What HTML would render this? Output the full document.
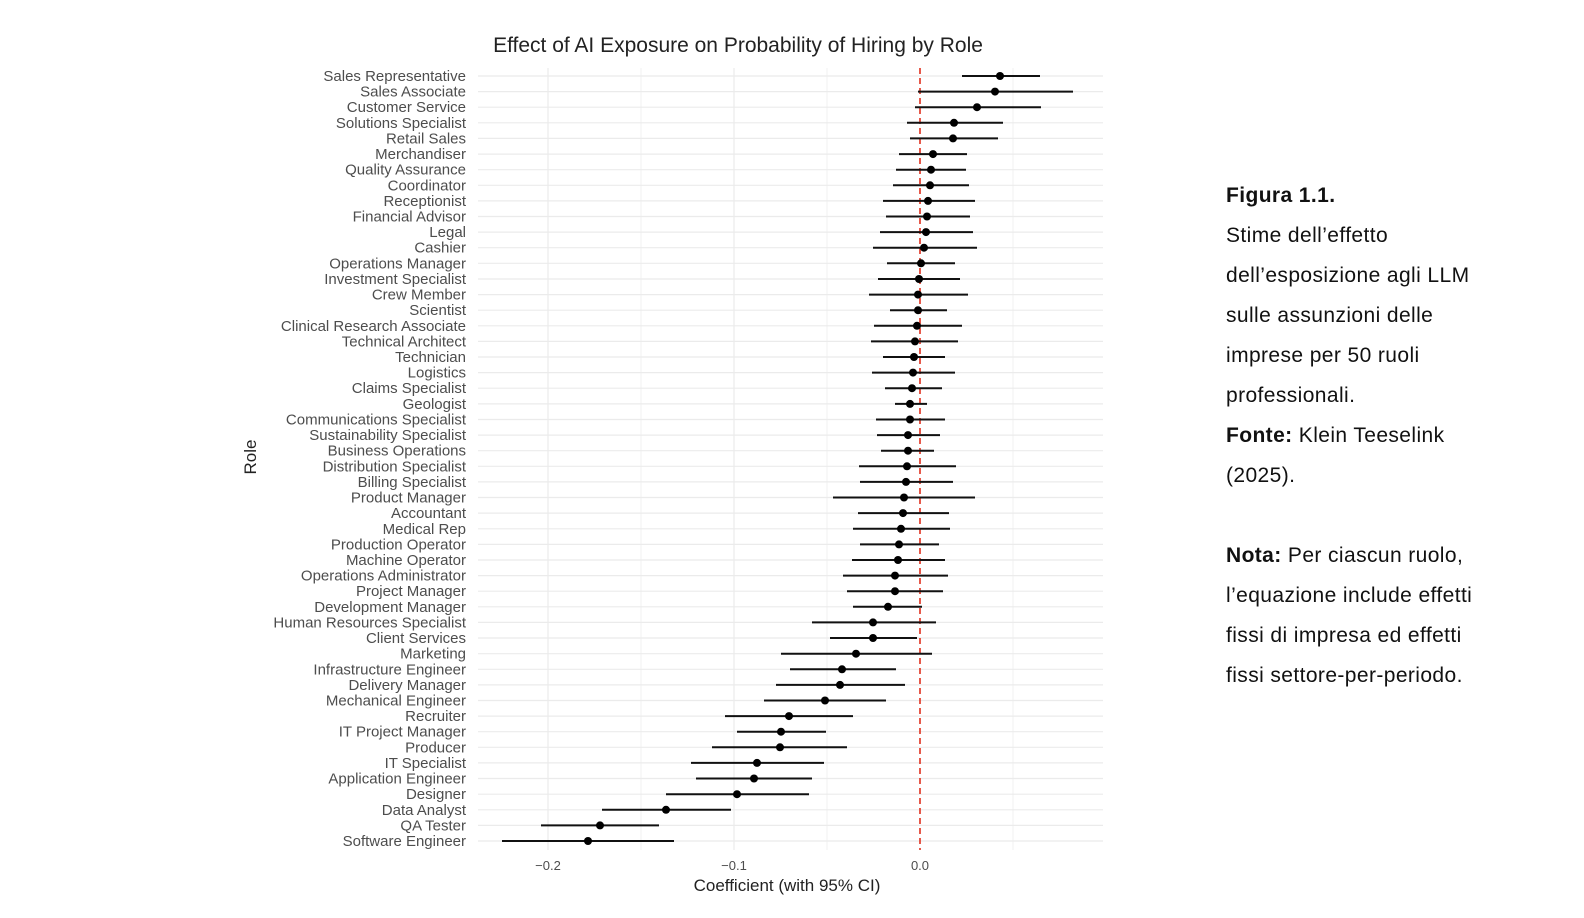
<!DOCTYPE html>
<html><head><meta charset="utf-8"><style>
body{margin:0;background:#fff;width:1584px;height:918px;overflow:hidden}
svg text{font-family:"Liberation Sans",sans-serif}
.n{position:absolute;left:1226px;top:176px;font-family:"Liberation Sans",sans-serif;font-size:21px;letter-spacing:0.4px;line-height:40px;color:#111;width:350px;white-space:nowrap}
</style></head><body>
<svg width="1584" height="918" style="position:absolute;left:0;top:0">
<text x="738" y="52" font-size="21" fill="#222" text-anchor="middle">Effect of AI Exposure on Probability of Hiring by Role</text>
<g stroke="#ebebeb" stroke-width="1.2">
<path d="M641 68V850M827 68V850M1013 68V850" stroke="#f3f3f3"/>
<path d="M548 68V850M734 68V850"/>
<path d="M478 76H1103M478 91.6H1103M478 107.2H1103M478 122.8H1103M478 138.4H1103M478 154.1H1103M478 169.7H1103M478 185.3H1103M478 200.9H1103M478 216.5H1103M478 232.1H1103M478 247.7H1103M478 263.3H1103M478 279H1103M478 294.6H1103M478 310.2H1103M478 325.8H1103M478 341.4H1103M478 357H1103M478 372.6H1103M478 388.2H1103M478 403.9H1103M478 419.5H1103M478 435.1H1103M478 450.7H1103M478 466.3H1103M478 481.9H1103M478 497.5H1103M478 513.1H1103M478 528.8H1103M478 544.4H1103M478 560H1103M478 575.6H1103M478 591.2H1103M478 606.8H1103M478 622.4H1103M478 638H1103M478 653.7H1103M478 669.3H1103M478 684.9H1103M478 700.5H1103M478 716.1H1103M478 731.7H1103M478 747.3H1103M478 762.9H1103M478 778.5H1103M478 794.2H1103M478 809.8H1103M478 825.4H1103M478 841H1103"/>
</g>
<line x1="920" y1="68" x2="920" y2="850" stroke="#e0301e" stroke-width="1.6" stroke-dasharray="6,4"/>
<path stroke="#111" stroke-width="2" fill="none" d="M962 76H1040M918 91.6H1073M915 107.2H1041M907 122.8H1003M910 138.4H998M899 154.1H967M896 169.7H966M893 185.3H969M883 200.9H975M886 216.5H970M880 232.1H973M873 247.7H977M887 263.3H955M878 279H960M869 294.6H968M890 310.2H947M874 325.8H962M871 341.4H958M883 357H945M872 372.6H955M885 388.2H942M895 403.9H927M876 419.5H945M877 435.1H940M881 450.7H934M859 466.3H956M860 481.9H953M833 497.5H975M858 513.1H949M853 528.8H950M860 544.4H939M852 560H945M843 575.6H948M847 591.2H943M853 606.8H922M812 622.4H936M830 638H917M781 653.7H932M790 669.3H896M776 684.9H905M764 700.5H886M725 716.1H853M737 731.7H826M712 747.3H847M691 762.9H824M696 778.5H812M666 794.2H809M602 809.8H731M541 825.4H659M502 841H674"/>
<g fill="#000">
<circle cx="1000" cy="76" r="4"/><circle cx="995" cy="91.6" r="4"/><circle cx="977" cy="107.2" r="4"/><circle cx="954" cy="122.8" r="4"/><circle cx="953" cy="138.4" r="4"/><circle cx="933" cy="154.1" r="4"/><circle cx="931" cy="169.7" r="4"/><circle cx="930" cy="185.3" r="4"/><circle cx="928" cy="200.9" r="4"/><circle cx="927" cy="216.5" r="4"/><circle cx="926" cy="232.1" r="4"/><circle cx="924" cy="247.7" r="4"/><circle cx="921" cy="263.3" r="4"/><circle cx="919" cy="279" r="4"/><circle cx="918" cy="294.6" r="4"/><circle cx="918" cy="310.2" r="4"/><circle cx="917" cy="325.8" r="4"/><circle cx="915" cy="341.4" r="4"/><circle cx="914" cy="357" r="4"/><circle cx="913" cy="372.6" r="4"/><circle cx="912" cy="388.2" r="4"/><circle cx="910" cy="403.9" r="4"/><circle cx="910" cy="419.5" r="4"/><circle cx="908" cy="435.1" r="4"/><circle cx="908" cy="450.7" r="4"/><circle cx="907" cy="466.3" r="4"/><circle cx="906" cy="481.9" r="4"/><circle cx="904" cy="497.5" r="4"/><circle cx="903" cy="513.1" r="4"/><circle cx="901" cy="528.8" r="4"/><circle cx="899" cy="544.4" r="4"/><circle cx="898" cy="560" r="4"/><circle cx="895" cy="575.6" r="4"/><circle cx="895" cy="591.2" r="4"/><circle cx="888" cy="606.8" r="4"/><circle cx="873" cy="622.4" r="4"/><circle cx="873" cy="638" r="4"/><circle cx="856" cy="653.7" r="4"/><circle cx="842" cy="669.3" r="4"/><circle cx="840" cy="684.9" r="4"/><circle cx="825" cy="700.5" r="4"/><circle cx="789" cy="716.1" r="4"/><circle cx="781" cy="731.7" r="4"/><circle cx="780" cy="747.3" r="4"/><circle cx="757" cy="762.9" r="4"/><circle cx="754" cy="778.5" r="4"/><circle cx="737" cy="794.2" r="4"/><circle cx="666" cy="809.8" r="4"/><circle cx="600" cy="825.4" r="4"/><circle cx="588" cy="841" r="4"/>
</g>
<g font-size="15" fill="#4d4d4d" text-anchor="end">
<text x="466" y="81">Sales Representative</text><text x="466" y="96.6">Sales Associate</text><text x="466" y="112.2">Customer Service</text><text x="466" y="127.8">Solutions Specialist</text><text x="466" y="143.4">Retail Sales</text><text x="466" y="159.1">Merchandiser</text><text x="466" y="174.7">Quality Assurance</text><text x="466" y="190.3">Coordinator</text><text x="466" y="205.9">Receptionist</text><text x="466" y="221.5">Financial Advisor</text><text x="466" y="237.1">Legal</text><text x="466" y="252.7">Cashier</text><text x="466" y="268.3">Operations Manager</text><text x="466" y="284">Investment Specialist</text><text x="466" y="299.6">Crew Member</text><text x="466" y="315.2">Scientist</text><text x="466" y="330.8">Clinical Research Associate</text><text x="466" y="346.4">Technical Architect</text><text x="466" y="362">Technician</text><text x="466" y="377.6">Logistics</text><text x="466" y="393.2">Claims Specialist</text><text x="466" y="408.9">Geologist</text><text x="466" y="424.5">Communications Specialist</text><text x="466" y="440.1">Sustainability Specialist</text><text x="466" y="455.7">Business Operations</text><text x="466" y="471.3">Distribution Specialist</text><text x="466" y="486.9">Billing Specialist</text><text x="466" y="502.5">Product Manager</text><text x="466" y="518.1">Accountant</text><text x="466" y="533.8">Medical Rep</text><text x="466" y="549.4">Production Operator</text><text x="466" y="565">Machine Operator</text><text x="466" y="580.6">Operations Administrator</text><text x="466" y="596.2">Project Manager</text><text x="466" y="611.8">Development Manager</text><text x="466" y="627.4">Human Resources Specialist</text><text x="466" y="643">Client Services</text><text x="466" y="658.7">Marketing</text><text x="466" y="674.3">Infrastructure Engineer</text><text x="466" y="689.9">Delivery Manager</text><text x="466" y="705.5">Mechanical Engineer</text><text x="466" y="721.1">Recruiter</text><text x="466" y="736.7">IT Project Manager</text><text x="466" y="752.3">Producer</text><text x="466" y="767.9">IT Specialist</text><text x="466" y="783.5">Application Engineer</text><text x="466" y="799.2">Designer</text><text x="466" y="814.8">Data Analyst</text><text x="466" y="830.4">QA Tester</text><text x="466" y="846">Software Engineer</text>
</g>
<g font-size="13" fill="#4d4d4d" text-anchor="middle">
<text x="548" y="870">−0.2</text><text x="734" y="870">−0.1</text><text x="920" y="870">0.0</text>
</g>
<text x="787" y="891" font-size="17" fill="#222" text-anchor="middle">Coefficient (with 95% CI)</text>
<text transform="translate(256,457) rotate(-90)" font-size="17" fill="#222" text-anchor="middle">Role</text>
</svg>
<div class="n"><b>Figura 1.1.</b><br>Stime dell’effetto<br>dell’esposizione agli LLM<br>sulle assunzioni delle<br>imprese per 50 ruoli<br>professionali.<br><b>Fonte:</b> Klein Teeselink<br>(2025).<br><br><b>Nota:</b> Per ciascun ruolo,<br>l’equazione include effetti<br>fissi di impresa ed effetti<br>fissi settore-per-periodo.</div>
</body></html>
